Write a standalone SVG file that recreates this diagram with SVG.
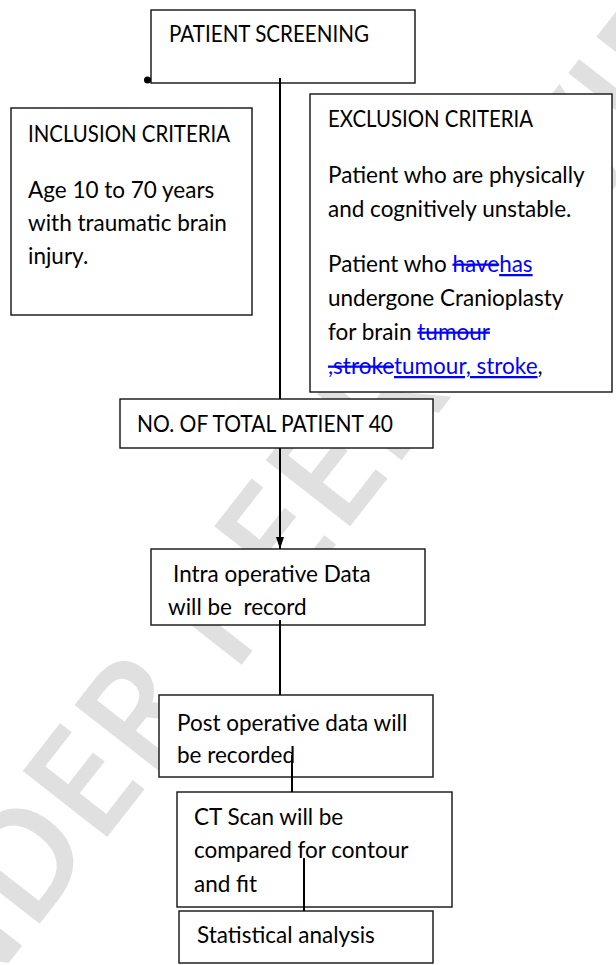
<svg xmlns="http://www.w3.org/2000/svg" width="616" height="965" viewBox="0 0 616 965">
  <defs>
    <style>
      .box { fill: #ffffff; stroke: #111111; stroke-width: 1.4; }
      .t { font-family: Lato, "Open Sans", "Liberation Sans", sans-serif; font-size: 22.5px; fill: #000000; }
      .ins { fill: #0000ff; text-decoration: underline; }
      .del { fill: #0000ff; text-decoration: line-through; }
      .wm { font-family: "Open Sans", "Liberation Sans", sans-serif; font-size: 150px; font-weight: 600; fill: #e0e0e0; }
      .conn { stroke: #000000; stroke-width: 2; fill: none; }
    </style>
    <marker id="arrow" viewBox="0 0 12 8" refX="12" refY="4" markerWidth="12" markerHeight="8" markerUnits="userSpaceOnUse" orient="auto">
      <path d="M0,0 L12,4 L0,8 Z" fill="#000000"/>
    </marker>
  </defs>
  <rect width="616" height="965" fill="#ffffff"/>

  <g id="watermark">
    <text class="wm" x="-110" y="1115" transform="rotate(-52 -110 1115)">UNDER PEER REVIEW</text>
  </g>

  <g id="patient-screening">
    <rect class="box" x="151" y="10" width="264" height="73"/>
    <text class="t" x="169" y="42" textLength="200" lengthAdjust="spacingAndGlyphs">PATIENT SCREENING</text>
  </g>

  <g id="inclusion-criteria">
    <rect class="box" x="11" y="108" width="241" height="207"/>
    <text class="t" x="28" y="142" textLength="202" lengthAdjust="spacingAndGlyphs">INCLUSION CRITERIA</text>
    <text class="t" x="28" y="198">Age 10 to 70 years</text>
    <text class="t" x="28" y="231">with traumatic brain</text>
    <text class="t" x="28" y="264">injury.</text>
  </g>

  <g id="exclusion-criteria">
    <rect class="box" x="310" y="94" width="302" height="298"/>
    <text class="t" x="328" y="127" textLength="205" lengthAdjust="spacingAndGlyphs">EXCLUSION CRITERIA</text>
    <text class="t" x="328" y="183">Patient who are physically</text>
    <text class="t" x="328" y="217">and cognitively unstable.</text>
    <text class="t" x="328" y="272">Patient who <tspan class="del">have</tspan><tspan class="ins">has</tspan></text>
    <text class="t" x="328" y="306">undergone Cranioplasty</text>
    <text class="t" x="328" y="340">for brain <tspan class="del">tumour</tspan></text>
    <text class="t" x="328" y="374"><tspan class="del">,stroke</tspan><tspan class="ins">tumour, stroke</tspan>,</text>
  </g>

  <g id="total-patients">
    <rect class="box" x="120" y="399" width="313" height="49"/>
    <text class="t" x="137" y="432" textLength="256" lengthAdjust="spacingAndGlyphs">NO. OF TOTAL PATIENT 40</text>
  </g>

  <g id="intra-operative">
    <rect class="box" x="151" y="549" width="274" height="76"/>
    <text class="t" x="173" y="582">Intra operative Data</text>
    <text class="t" x="168" y="615" xml:space="preserve">will be  record</text>
  </g>

  <g id="post-operative">
    <rect class="box" x="159" y="695" width="274" height="82"/>
    <text class="t" x="177" y="731">Post operative data will</text>
    <text class="t" x="177" y="763">be recorded</text>
  </g>

  <g id="ct-scan">
    <rect class="box" x="177" y="792" width="275" height="115"/>
    <text class="t" x="194" y="825">CT Scan will be</text>
    <text class="t" x="194" y="858">compared for contour</text>
    <text class="t" x="194" y="892">and fit</text>
  </g>

  <g id="statistical-analysis">
    <rect class="box" x="179" y="911" width="254" height="52"/>
    <text class="t" x="197" y="943">Statistical analysis</text>
  </g>

  <g id="connectors">
    <circle cx="147.5" cy="80" r="3.5" fill="#000000"/>
    <line class="conn" x1="280" y1="78" x2="280" y2="399"/>
    <line class="conn" x1="280" y1="448" x2="280" y2="549" marker-end="url(#arrow)"/>
    <line class="conn" x1="280" y1="620" x2="280" y2="695"/>
    <line class="conn" x1="292" y1="755" x2="292" y2="792"/>
    <line class="conn" x1="304" y1="858" x2="304" y2="911"/>
  </g>
</svg>
